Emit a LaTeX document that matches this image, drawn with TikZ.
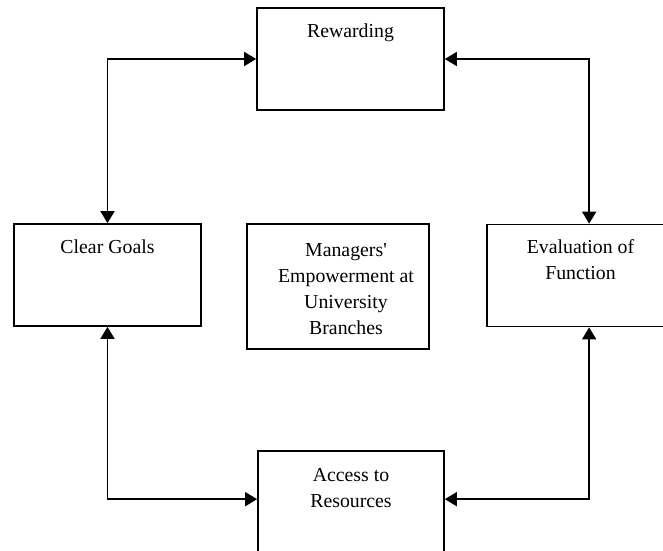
\documentclass[tikz,border=0pt]{standalone}
\usepackage{fontspec}
\setmainfont{Liberation Serif}
\usetikzlibrary{arrows.meta}
\begin{document}
\begin{tikzpicture}[x=1pt,y=-1pt,
  box/.style={draw=black, line width=1.7pt, inner sep=0pt,
              minimum width=187pt, minimum height=102pt},
  txt/.style={anchor=base, inner sep=0pt,
              font=\fontsize{19.8}{26}\selectfont},
  link/.style={line width=1.7pt,
    {Triangle[length=12pt,width=14pt]}-{Triangle[length=12pt,width=14pt]}}]
\useasboundingbox (0,0) rectangle (663,550);
\clip (0,0) rectangle (663,550);

% boxes
\node[box] (rew) at (350.5,59) {};
\node[box] (cg)  at (107.5,275) {};
\node[box] (ev)  at (580.5,275.5) {};
\node[box, minimum width=186pt, minimum height=129pt] (ac) at (351,515.5) {};
\node[box, minimum width=182pt, minimum height=125pt] (mid) at (338,286.5) {};

% labels
\node[txt] (trew) at (350.5,37) {Rewarding};
\node[txt] (tcg)  at (107.5,253) {Clear Goals};
\node[txt] (tev)  at (580.5,253) {\parbox[t]{180pt}{\centering Evaluation of\\Function}};
\node[txt] (tac)  at (351,481) {\parbox[t]{180pt}{\centering Access to\\Resources}};
\node[txt] (tmid) at (346,256) {\parbox[t]{180pt}{\centering Managers\textquotesingle\\Empowerment at\\University\\Branches}};

% two-way links around the cycle
\draw[link] (rew.west) -| (cg.north);
\draw[link] (rew.east) -| ([xshift=103pt]ev.north west);
\draw[link] (cg.south) |- ([yshift=-49pt]ac.north west);
\draw[link] ([xshift=103pt]ev.south west) |- ([yshift=-49pt]ac.north east);
\end{tikzpicture}
\end{document}
